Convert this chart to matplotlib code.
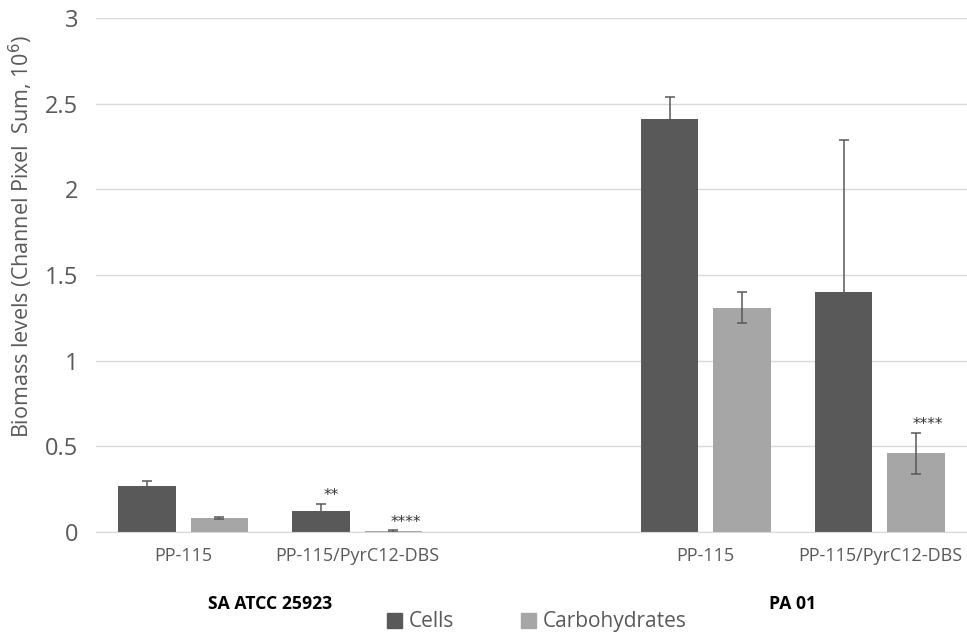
"""
Biomass levels (cells and carbohydrates) for two strains and two coatings.
"""

import numpy as np
import matplotlib.pyplot as plt
from matplotlib.patches import Patch

# Categories: two strains, each with two coatings; an empty slot separates them
COATINGS = ["PP-115", "PP-115/PyrC12-DBS"]
STRAINS = ["SA ATCC 25923", "PA 01"]

# Values in units of 10^6 (channel pixel sum)
CELLS_MEAN = [0.27, 0.12, 2.41, 1.40]
CELLS_ERR = [0.03, 0.045, 0.13, 0.89]
CARB_MEAN = [0.08, 0.005, 1.31, 0.46]
CARB_ERR = [0.006, 0.004, 0.09, 0.12]

# Significance marks: (series, bar index, label)
SIGNIF = [("cells", 1, "**"), ("carb", 1, "****"), ("carb", 3, "****")]

DARK = "#595959"
LIGHT = "#a6a6a6"
TEXT = "#595959"
GRID = "#d9d9d9"

plt.rcParams['font.family'] = ['Open Sans', 'DejaVu Sans']

# Slot positions: 0, 1 | 2 empty | 3, 4
x = np.array([0, 1, 3, 4])
width = 0.33
gap = 0.085
offset = (width + gap) / 2

fig = plt.figure(figsize=(9.67, 6.34), dpi=100)
ax = fig.add_axes([96 / 967, (634 - 532) / 634, (967 - 96) / 967, (532 - 18) / 634])

err_kw = dict(ecolor=DARK, elinewidth=1.1, capsize=3.5, capthick=1.1)
ax.bar(x - offset, CELLS_MEAN, width, yerr=CELLS_ERR, color=DARK,
       error_kw=err_kw, zorder=3)
ax.bar(x + offset, CARB_MEAN, width, yerr=CARB_ERR, color=LIGHT,
       error_kw=err_kw, zorder=3)

for series, i, label in SIGNIF:
    if series == "cells":
        xpos = x[i] - offset + 0.06
        top = CELLS_MEAN[i] + CELLS_ERR[i]
    else:
        xpos = x[i] + offset + 0.07
        top = CARB_MEAN[i] + CARB_ERR[i]
    ax.text(xpos, top + 0.005, label, ha="center", va="bottom",
            fontsize=11, color="#333333", family=['DejaVu Sans'])

ax.set_xlim(-0.5, 4.5)
ax.set_ylim(0, 3)
ax.set_yticks(np.arange(0, 3.01, 0.5))
ax.set_yticklabels(["0", "0.5", "1", "1.5", "2", "2.5", "3"])
ax.tick_params(axis="y", length=0, labelsize=17, labelcolor=TEXT, pad=13)
ax.tick_params(axis="x", length=0, labelsize=13, labelcolor=TEXT, pad=11)
ax.set_xticks(x)
ax.set_xticklabels(COATINGS * 2)
ax.grid(axis="y", color=GRID, linewidth=1, zorder=0)
ax.set_axisbelow(True)

for side in ["top", "right", "left"]:
    ax.spines[side].set_visible(False)
ax.spines["bottom"].set_color(GRID)
ax.spines["bottom"].set_zorder(4)

ax.set_ylabel("Biomass levels (Channel Pixel  Sum, 10$^6$)", fontsize=15.5,
              color=TEXT)
ax.yaxis.set_label_coords(-0.07, 0.575)

# Strain names under each pair of coatings
for center, name in zip([0.5, 3.5], STRAINS):
    ax.text(center, -0.42, name, ha="center", va="center", fontsize=12.7,
            fontweight="bold", color="black", clip_on=False)

handles = [Patch(color=DARK, label="Cells"), Patch(color=LIGHT, label="Carbohydrates")]
fig.legend(handles=handles, loc="center", bbox_to_anchor=(0.555, 0.019), ncol=2,
           frameon=False, fontsize=15, labelcolor=TEXT, handlelength=0.75,
           handleheight=0.75, columnspacing=3.2, handletextpad=0.3)

fig.savefig("out.png", dpi=100)
